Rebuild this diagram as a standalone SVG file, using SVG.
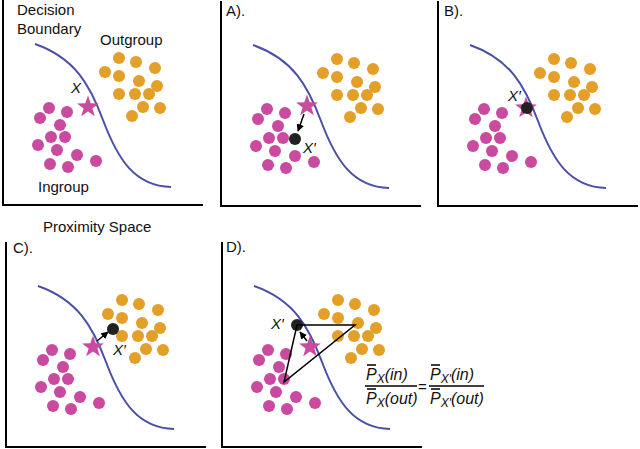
<svg xmlns="http://www.w3.org/2000/svg" xmlns:xlink="http://www.w3.org/1999/xlink" width="640" height="449" viewBox="0 0 640 449">
<style>
.ax{fill:none;stroke:#000;stroke-width:2}
.cv{fill:none;stroke:#4a4fa8;stroke-width:2}
.in{fill:#c94a9e}
.out{fill:#e39f27}
.t{font-family:"Liberation Sans",Arial,sans-serif;font-size:15px;fill:#111}
.i{font-family:"Liberation Sans",Arial,sans-serif;font-size:15px;font-style:italic;fill:#111}
.f{font-family:"Liberation Sans",Arial,sans-serif;font-size:16px;font-style:italic;fill:#111}
.ln{stroke:#000;stroke-width:1.5;fill:none}
</style>
<defs>
<marker id="ah" viewBox="0 0 10 10" refX="9" refY="5" markerWidth="5" markerHeight="5" orient="auto"><path d="M0,0L10,5L0,10z" fill="#000"/></marker>
<path id="star" class="in" d="M0,-11.5L2.7,-3.7L10.9,-3.6L4.4,1.4L6.8,9.3L0,4.6L-6.8,9.3L-4.4,1.4L-10.9,-3.6L-2.7,-3.7z"/>
<g id="base">
<path class="ax" d="M3,0V205H203"/>
<path class="cv" d="M35,44C75,58 90,85 103,120C118,160 135,186 171,187"/>
<g class="in">
<circle cx="49" cy="108" r="6"/><circle cx="67" cy="112" r="6"/><circle cx="40" cy="118" r="6"/><circle cx="60" cy="125" r="6"/><circle cx="51" cy="137" r="6"/><circle cx="65" cy="137" r="6"/><circle cx="38" cy="145" r="6"/><circle cx="57" cy="150" r="6"/><circle cx="77" cy="155" r="6"/><circle cx="96" cy="161" r="6"/><circle cx="50" cy="164" r="6"/><circle cx="68" cy="167" r="6"/>
</g>
<g class="out">
<circle cx="105" cy="72" r="6"/><circle cx="119" cy="58" r="6"/><circle cx="136" cy="62" r="6"/><circle cx="155" cy="68" r="6"/><circle cx="119" cy="76" r="6"/><circle cx="139" cy="81" r="6"/><circle cx="157" cy="86" r="6"/><circle cx="119" cy="94" r="6"/><circle cx="135" cy="94" r="6"/><circle cx="149" cy="94" r="6"/><circle cx="143" cy="107" r="6"/><circle cx="160" cy="108" r="6"/><circle cx="132" cy="116" r="6"/>
</g>
</g>
</defs>
<g id="panel0">
<use xlink:href="#base"/>
<use xlink:href="#star" transform="translate(88,107)"/>
<text class="t" x="17" y="15">Decision</text>
<text class="t" x="17" y="34">Boundary</text>
<text class="t" x="100" y="45">Outgroup</text>
<text class="t" x="38" y="192">Ingroup</text>
<text class="i" x="71" y="93">X</text>
</g>
<g id="panelA">
<use xlink:href="#base" transform="translate(218,1)"/>
<use xlink:href="#star" transform="translate(307,106)"/>
<circle cx="295" cy="139" r="6" fill="#222"/>
<text class="t" x="226" y="16">A).</text>
<text class="i" x="303" y="153">X′</text>
</g>
<g id="panelB">
<use xlink:href="#base" transform="translate(435,1)"/>
<use xlink:href="#star" transform="translate(526,108)"/>
<circle cx="527" cy="108" r="6" fill="#222"/>
<text class="t" x="444" y="16">B).</text>
<text class="i" x="508" y="101">X′</text>
</g>
<g id="panelC">
<use xlink:href="#base" transform="translate(3,242)"/>
<use xlink:href="#star" transform="translate(93,347)"/>
<circle cx="113" cy="329" r="6" fill="#222"/>
<text class="t" x="43" y="232">Proximity Space</text>
<text class="t" x="13" y="253">C).</text>
<text class="i" x="113" y="355">X′</text>
</g>
<g id="panelD">
<use xlink:href="#base" transform="translate(219,242)"/>
<use xlink:href="#star" transform="translate(310,347)"/>
<circle cx="297" cy="325" r="6" fill="#222"/>
<text class="t" x="226" y="252">D).</text>
<text class="i" x="271" y="329">X′</text>
<g id="formula" class="f">
<text x="366" y="380">P<tspan font-size="12" dy="3">X</tspan><tspan dy="-3">(in)</tspan></text>
<text x="366" y="404">P<tspan font-size="12" dy="3">X</tspan><tspan dy="-3">(out)</tspan></text>
<text x="430" y="380">P<tspan font-size="12" dy="3">X′</tspan><tspan dy="-3">(in)</tspan></text>
<text x="430" y="404">P<tspan font-size="12" dy="3">X′</tspan><tspan dy="-3">(out)</tspan></text>
<text class="t" x="418" y="392" style="font-style:normal">=</text>
<path class="ln" stroke-width="1" d="M365,386H417M429,386H484M367,365H376M367,389H376M431,365H440M431,389H440"/>
</g>
</g>
<g id="connectors">
<path class="ln" d="M304,114L298,131" marker-end="url(#ah)"/>
<path class="ln" d="M97,341L108,332" marker-end="url(#ah)"/>
<path class="ln" d="M297,325H355L284,382Z"/>
<path class="ln" d="M307,341L300,332" marker-end="url(#ah)"/>
</g>
</svg>
